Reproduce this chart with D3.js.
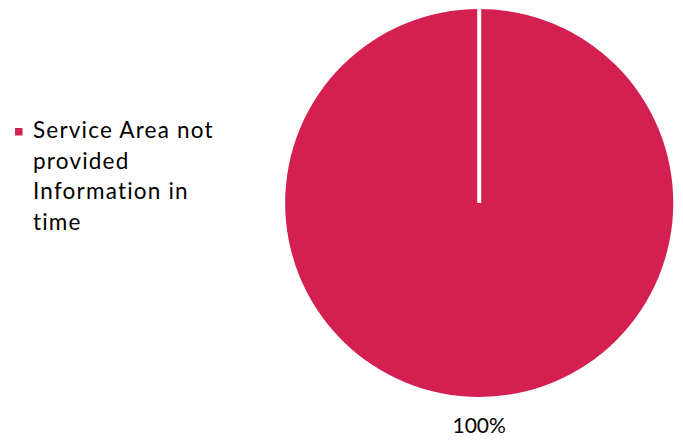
<!DOCTYPE html>
<html><head><meta charset="utf-8">
<script src="https://cdn.jsdelivr.net/npm/d3@7"></script>
<style>body{margin:0;background:#fff;} svg{display:block;}</style>
</head><body>
<script>
const categories = ["Service Area not provided Information in time"];
const values = [100];
const legendLines = ["Service Area not", "provided", "Information in", "time"];
const labels = ["100%"];
const colors = ["#D32051"];

const W = 683, H = 448;
const svg = d3.select("body").append("svg").attr("width", W).attr("height", H);
const cx = 479.2, cy = 203, R = 194;
const pie = d3.pie().sort(null).value(d => d);
const arc = d3.arc().innerRadius(0).outerRadius(R);
const g = svg.append("g").attr("transform", `translate(${cx},${cy})`);
const arcs = pie(values);
g.selectAll("path").data(arcs).enter().append("path")
  .attr("d", arc).attr("fill", (d,i) => colors[i]);

// slice border lines (white) from center to each slice start
g.selectAll("line.sep").data(arcs).enter().append("line")
  .attr("class","sep")
  .attr("x1", 0).attr("y1", 0)
  .attr("x2", d => (R + 2) * Math.sin(d.startAngle))
  .attr("y2", d => -(R + 2) * Math.cos(d.startAngle))
  .attr("stroke", "#fff").attr("stroke-width", 4);

// label below pie
g.selectAll("text.lbl").data(arcs).enter().append("text")
  .attr("class","lbl")
  .attr("x", 0).attr("y", R + 36)
  .attr("text-anchor","middle")
  .attr("font-family","Lato, 'Open Sans', sans-serif")
  .attr("font-size", 21).attr("fill","#000")
  .text((d,i) => labels[i]);

// legend
const lg = svg.append("g");
lg.append("rect").attr("x", 15).attr("y", 128).attr("width", 7.5).attr("height", 7.5).attr("fill", colors[0]);
lg.selectAll("text").data(legendLines).enter().append("text")
  .attr("x", 33).attr("y", (d,i) => 138 + i*30.5)
  .attr("font-family","Lato, 'Open Sans', sans-serif")
  .attr("font-size", 22.5).attr("letter-spacing", 1.2).attr("fill","#000")
  .text(d => d);
</script>
</body></html>
